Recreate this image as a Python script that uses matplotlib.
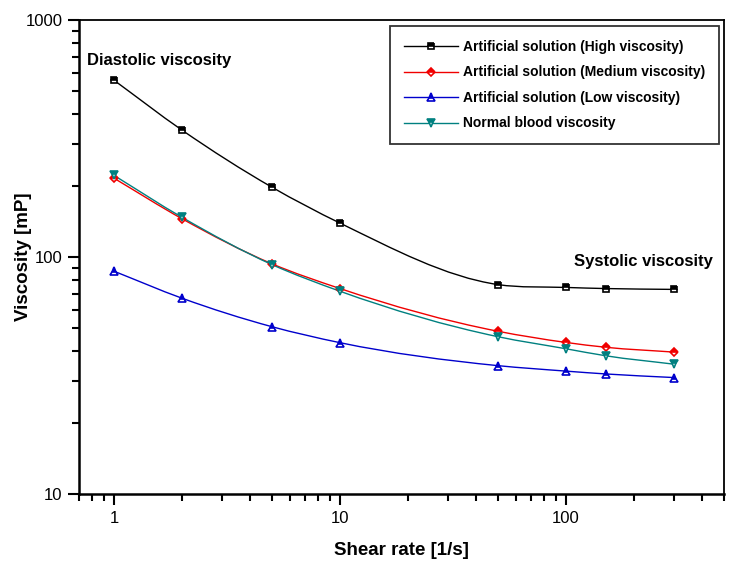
import numpy as np
import matplotlib
matplotlib.use('Agg')
import matplotlib.pyplot as plt
from matplotlib.path import Path
from matplotlib.patches import PathPatch
from matplotlib.ticker import LogLocator, NullFormatter, FixedLocator

plt.rcParams['font.family'] = ['Liberation Sans', 'DejaVu Sans']

# shear rates [1/s]
shear_rate = [1, 2, 5, 10, 50, 100, 150, 300]

# viscosity [mP]
high_visc = [557, 343, 197, 139, 76.5, 74.4, 73.6, 73.0]
medium_visc = [215, 145, 93.6, 73.6, 48.6, 43.6, 41.6, 39.7]
low_visc = [87.1, 67.0, 50.8, 43.5, 34.8, 33.0, 32.1, 31.0]
blood_visc = [221, 147, 92.9, 71.7, 46.1, 41.0, 38.3, 35.3]

labels = ['Artificial solution (High viscosity)',
          'Artificial solution (Medium viscosity)',
          'Artificial solution (Low viscosity)',
          'Normal blood viscosity']


def spline_path(x, y):
    # smooth connector (hermite -> bezier in log-log space), like Origin's spline line
    u = np.log10(x)
    v = np.log10(y)
    h = np.diff(u)
    d = np.diff(v) / h
    m = np.empty_like(u)
    m[0], m[-1] = d[0], d[-1]
    for i in range(1, len(u) - 1):
        m[i] = (h[i] * d[i - 1] + h[i - 1] * d[i]) / (h[i - 1] + h[i])
    verts = [(x[0], y[0])]
    codes = [Path.MOVETO]
    for i in range(len(u) - 1):
        c1 = (u[i] + h[i] / 3, v[i] + m[i] * h[i] / 3)
        c2 = (u[i + 1] - h[i] / 3, v[i + 1] - m[i + 1] * h[i] / 3)
        verts += [(10 ** c1[0], 10 ** c1[1]), (10 ** c2[0], 10 ** c2[1]), (x[i + 1], y[i + 1])]
        codes += [Path.CURVE4] * 3
    return Path(verts, codes)


fig = plt.figure(figsize=(7.39, 5.62), dpi=100)
ax = fig.add_axes([0.1069, 0.121, 0.8728, 0.8434])
ax.set_xscale('log')
ax.set_yscale('log')
ax.set_xlim(0.7, 500)
ax.set_ylim(10, 1000)

series = [
    (high_visc, 'black', 's', 5),
    (medium_visc, '#f00000', 'D', 4),
    (low_visc, '#0000cc', '^', 5.5),
    (blood_visc, '#008080', 'v', 5.5),
]
for (vals, col, mk, ms), lab in zip(series, labels):
    ax.add_patch(PathPatch(spline_path(shear_rate, vals), fill=False, edgecolor=col, lw=1.0))
    ax.plot(shear_rate, vals, linestyle='none', marker=mk, color=col, ms=ms, mew=1.2,
            fillstyle='top', markerfacecoloralt='white')
    # legend proxy: line with marker in the middle
    ax.plot([], [], color=col, lw=1.0, marker=mk, ms=ms, mew=1.2,
            fillstyle='top', markerfacecoloralt='white', label=lab)

ax.xaxis.set_major_locator(FixedLocator([1, 10, 100]))
ax.set_xticklabels(['1', '10', '100'])
ax.xaxis.set_minor_locator(LogLocator(base=10, subs=np.arange(2, 10)))
ax.xaxis.set_minor_formatter(NullFormatter())
ax.yaxis.set_major_locator(FixedLocator([10, 100, 1000]))
ax.set_yticklabels(['10', '100', '1000'])
ax.yaxis.set_minor_locator(LogLocator(base=10, subs=np.arange(2, 10)))
ax.yaxis.set_minor_formatter(NullFormatter())

ax.tick_params(which='major', direction='out', length=8, width=1.5, labelsize=12, pad=4)
ax.tick_params(which='minor', direction='out', length=5, width=1.5)
for sp in ax.spines.values():
    sp.set_linewidth(1.3)
for side in ('left', 'bottom'):
    ax.spines[side].set_linewidth(1.8)

ax.set_xlabel('Shear rate [1/s]', fontsize=13.5, fontweight='bold', labelpad=12)
ax.set_ylabel('Viscosity [mP]', fontsize=13.5, fontweight='bold')
ax.yaxis.set_label_coords(-0.073, 0.5)

ax.text(0.012, 0.915, 'Diastolic viscosity', transform=ax.transAxes,
        fontsize=12, fontweight='bold', va='center', ha='left')
ax.text(0.983, 0.49, 'Systolic viscosity', transform=ax.transAxes,
        fontsize=12, fontweight='bold', va='center', ha='right')

leg = ax.legend(loc='upper right', bbox_to_anchor=(719 / 739, 1 - 26 / 562),
                bbox_transform=fig.transFigure, frameon=True, fancybox=False,
                edgecolor='black', prop={'size': 10, 'weight': 'bold'},
                handlelength=3.9, handletextpad=0.35, labelspacing=0.83,
                borderpad=1.0, borderaxespad=0)
leg.get_frame().set_linewidth(1.3)

fig.savefig('out.png', dpi=100)
